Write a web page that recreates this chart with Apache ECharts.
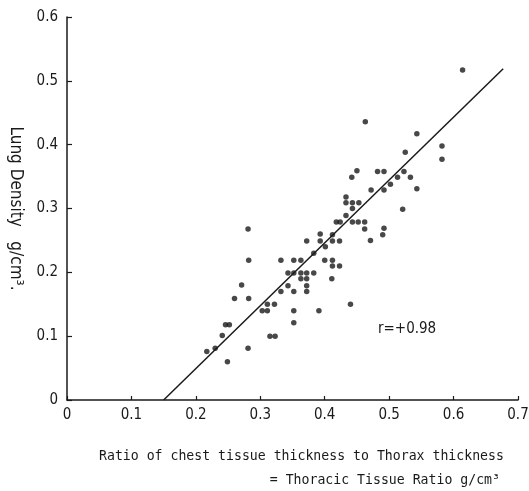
<!DOCTYPE html>
<html>
<head>
<meta charset="utf-8">
<script src="https://cdn.jsdelivr.net/npm/echarts@6/dist/echarts.min.js"></script>
<style>
html,body{margin:0;padding:0;background:#fff;}
#chart{width:529px;height:491px;}
</style>
</head>
<body>
<div id="chart"></div>
<script>
// Thoracic tissue ratio (x) vs lung density (y)
const ratioX = [0.217,0.230,0.241,0.246,0.252,0.249,0.260,0.271,0.281,0.282,0.282,0.281,0.303,0.311,0.311,0.322,0.315,0.323,0.332,0.332,0.343,0.343,0.352,0.363,0.352,0.363,0.372,0.383,0.363,0.372,0.372,0.352,0.372,0.352,0.391,0.352,0.383,0.393,0.372,0.393,0.401,0.400,0.412,0.412,0.423,0.411,0.412,0.412,0.423,0.418,0.424,0.443,0.452,0.462,0.462,0.471,0.440,0.433,0.443,0.433,0.443,0.453,0.433,0.442,0.450,0.463,0.482,0.492,0.523,0.513,0.533,0.502,0.472,0.492,0.543,0.521,0.492,0.490,0.525,0.543,0.582,0.582,0.614];
const densityY = [0.076,0.081,0.101,0.118,0.118,0.060,0.159,0.180,0.268,0.219,0.159,0.081,0.140,0.140,0.150,0.150,0.100,0.100,0.219,0.170,0.199,0.179,0.219,0.219,0.199,0.199,0.199,0.199,0.190,0.190,0.179,0.170,0.170,0.140,0.140,0.121,0.230,0.260,0.249,0.249,0.240,0.219,0.219,0.210,0.210,0.190,0.259,0.249,0.249,0.279,0.279,0.279,0.279,0.279,0.268,0.250,0.150,0.289,0.300,0.309,0.309,0.309,0.318,0.349,0.359,0.436,0.358,0.358,0.358,0.349,0.349,0.338,0.329,0.329,0.331,0.299,0.269,0.259,0.388,0.417,0.398,0.377,0.517];
const fitX = [0.15, 0.677];
const fitY = [0.0, 0.519];
const xTicks = {min: 0, max: 0.7, interval: 0.1};
const yTicks = {min: 0, max: 0.6, interval: 0.1};
const rText = 'r=+0.98';
const xTitle1 = 'Ratio of chest tissue thickness to Thorax thickness';
const xTitle2 = '= Thoracic Tissue Ratio g/cm³';
const yTitle = 'Lung Density   g/cm³.';

const narrow = '"Liberation Sans Narrow","DejaVu Sans Condensed",sans-serif';
const ink = '#1a1a1a';

const chart = echarts.init(document.getElementById('chart'), null, {renderer: 'canvas'});
chart.setOption({
  animation: false,
  backgroundColor: '#fff',
  grid: {left: 67, right: 11, top: 17, bottom: 91, containLabel: false, outerBoundsMode: 'none'},
  xAxis: {
    type: 'value', min: xTicks.min, max: xTicks.max, interval: xTicks.interval,
    splitLine: {show: false},
    axisLine: {show: true, lineStyle: {color: ink, width: 1.5}},
    axisTick: {show: true, inside: true, length: 4, lineStyle: {color: ink, width: 1.2}},
    axisLabel: {color: ink, fontFamily: narrow, fontSize: 15, margin: 8}
  },
  yAxis: {
    type: 'value', min: yTicks.min, max: yTicks.max, interval: yTicks.interval,
    splitLine: {show: false},
    axisLine: {show: true, lineStyle: {color: ink, width: 1.5}},
    axisTick: {show: true, inside: true, length: 5, lineStyle: {color: ink, width: 1.2}},
    axisLabel: {color: ink, fontFamily: narrow, fontSize: 15, margin: 9},
    name: yTitle, nameLocation: 'middle', nameRotate: -90, nameGap: 43,
    nameTextStyle: {color: ink, fontFamily: narrow, fontSize: 17}
  },
  series: [
    {
      type: 'scatter',
      data: ratioX.map((x, i) => [x, densityY[i]]),
      symbolSize: 5.5,
      itemStyle: {color: ink}
    },
    {
      type: 'line',
      data: fitX.map((x, i) => [x, fitY[i]]),
      symbol: 'none',
      lineStyle: {color: ink, width: 1.5}
    }
  ],
  graphic: [
    {type: 'text', left: 378, top: 322, style: {text: rText, fill: ink, font: '15px ' + narrow}},
    {type: 'text', left: 99, top: 450, style: {text: xTitle1, fill: ink, font: '13.2px "DejaVu Sans Mono",monospace'}},
    {type: 'text', right: 29, top: 474, style: {text: xTitle2, fill: ink, font: '13.2px "DejaVu Sans Mono",monospace'}}
  ]
});
</script>
</body>
</html>
